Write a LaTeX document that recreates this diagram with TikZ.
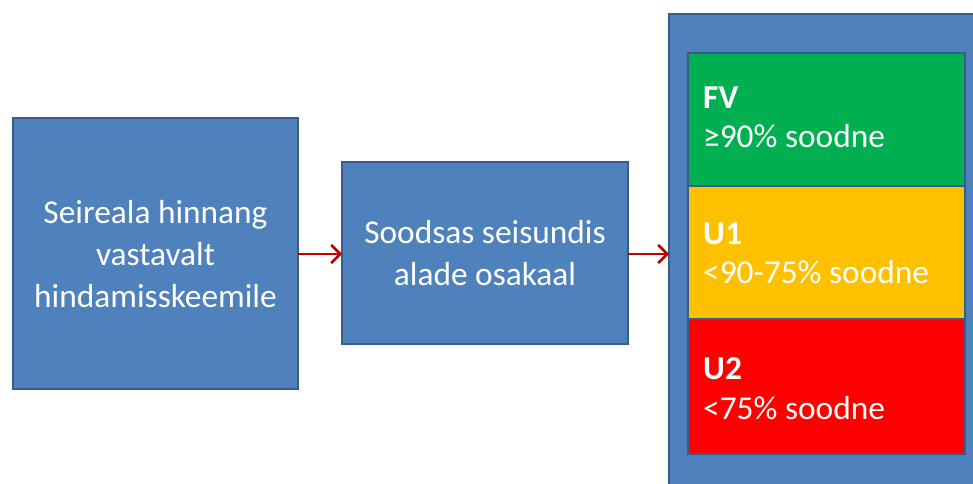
\documentclass[tikz,border=0pt]{standalone}
\usepackage{fontspec}
\setmainfont{Carlito}
\usetikzlibrary{arrows.meta}
\definecolor{boxfill}{HTML}{4F81BD}
\definecolor{boxline}{HTML}{385D8A}
\definecolor{arrowred}{HTML}{C00000}
\definecolor{fvgreen}{HTML}{00B050}
\definecolor{uyellow}{HTML}{FFC000}
\definecolor{ured}{HTML}{FF0000}
\tikzset{
  bluebox/.style={draw=boxline, fill=boxfill, line width=2.5bp},
  catbox/.style={draw=boxline, line width=2.5bp},
  boxtext/.style={text=white, font=\fontsize{33.5}{42}\selectfont, align=center},
  cattext/.style={text=white, font=\fontsize{33.5}{39}\selectfont, anchor=base west, inner sep=0pt},
  flow/.style={draw=arrowred, line width=2bp, -{Straight Barb[length=9bp,width=18bp,line width=2.5bp]}}
}
\begin{document}
\begin{tikzpicture}[x=1bp,y=-1bp]
\useasboundingbox (0,0) rectangle (973,484);
\begin{scope}
\clip (0,0) rectangle (973,484);
% panel
\draw[bluebox] (669,14) rectangle (990,500);
\coordinate (panelW) at (669,254);
\end{scope}
% left boxes
\draw[bluebox] (13,118) rectangle (298,389);
\node[boxtext] (b1) at (155.5,254) {Seireala hinnang\\vastavalt\\hindamisskeemile};
\coordinate (b1E) at (298,254);
\draw[bluebox] (342,162) rectangle (628,344);
\node[boxtext] (b2) at (485,253) {Soodsas seisundis\\alade osakaal};
\coordinate (b2W) at (342,254);
\coordinate (b2E) at (628,254);
% category boxes
\draw[catbox, fill=fvgreen] (688,53) rectangle (965,186);
\draw[catbox, fill=uyellow] (688,186) rectangle (965,319);
\draw[catbox, fill=ured] (688,319) rectangle (965,454);
\node[cattext] (fv) at (703,109) {\bfseries FV};
\node[cattext] (fvt) at (703,148) {≥90\% soodne};
\node[cattext] (u1) at (703,245) {\bfseries U1};
\node[cattext] (u1t) at (703,284) {<90-75\% soodne};
\node[cattext] (u2) at (703,380) {\bfseries U2};
\node[cattext] (u2t) at (703,419) {<75\% soodne};
% arrows
\draw[flow] (b1E) -- (b2W);
\draw[flow] (b2E) -- (panelW);
\end{tikzpicture}
\end{document}
